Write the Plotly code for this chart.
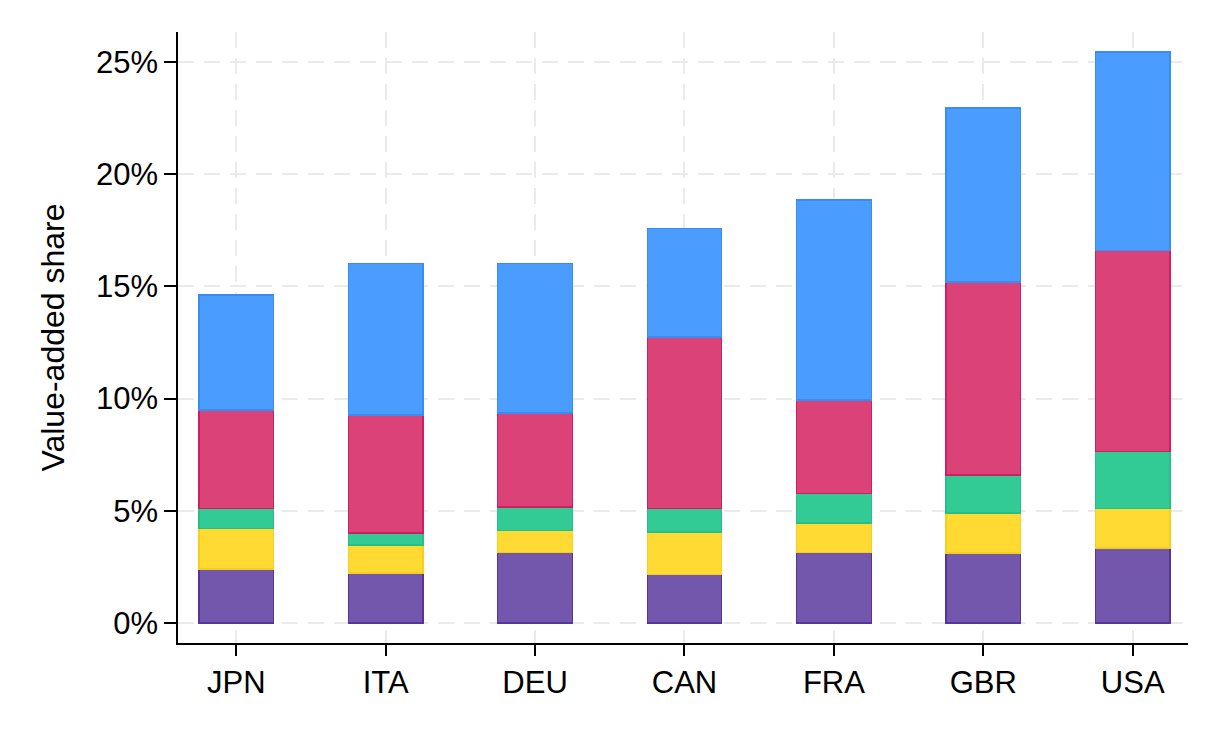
import plotly.graph_objects as go

countries = ["JPN", "ITA", "DEU", "CAN", "FRA", "GBR", "USA"]

# stacked segment values (percent of value added), bottom to top
seg_purple = [2.41, 2.23, 3.16, 2.18, 3.16, 3.12, 3.34]
seg_yellow = [1.82, 1.25, 0.98, 1.88, 1.30, 1.78, 1.78]
seg_green = [0.89, 0.53, 1.03, 1.06, 1.33, 1.70, 2.54]
seg_red = [4.37, 5.26, 4.19, 7.63, 4.15, 8.60, 8.96]
seg_blue = [5.13, 6.77, 6.68, 4.85, 8.91, 7.75, 8.83]

y_ticks = [0, 5, 10, 15, 20, 25]

series = [
    ("Segment 1", seg_purple, "#7357AD", "#55359A"),
    ("Segment 2", seg_yellow, "#FEDA33", "#F6CF1E"),
    ("Segment 3", seg_green, "#33CB95", "#27BF86"),
    ("Segment 4", seg_red, "#DB4278", "#CF1F60"),
    ("Segment 5", seg_blue, "#4A9CFF", "#3A8CF5"),
]

fig = go.Figure()
for name, vals, fill, edge in series:
    fig.add_trace(go.Bar(
        x=countries, y=vals, name=name,
        marker=dict(color=fill, line=dict(color=edge, width=1.2)),
        width=0.5,
    ))

font_family = "Liberation Sans, Arial, sans-serif"
fig.update_layout(
    barmode="stack",
    showlegend=False,
    width=1223, height=729,
    margin=dict(l=170, r=43, t=24, b=94),
    plot_bgcolor="white", paper_bgcolor="white",
    font=dict(family=font_family, size=31, color="black"),
    xaxis=dict(
        range=[-0.39, 6.37],
        showline=True, linecolor="black", linewidth=1.5,
        ticks="outside", ticklen=11, tickwidth=1.5, tickcolor="black",
        showgrid=True, gridcolor="#EAEAEA", griddash="16px,10px", gridwidth=2,
        tickfont=dict(size=31),
    ),
    yaxis=dict(
        range=[-0.89, 26.34],
        tickvals=y_ticks, ticktext=[f"{v}%" for v in y_ticks],
        showline=True, linecolor="black", linewidth=1.5,
        ticks="outside", ticklen=12, tickwidth=1.5, tickcolor="black",
        showgrid=True, gridcolor="#EAEAEA", griddash="16px,10px", gridwidth=2,
        zeroline=False,
        tickfont=dict(size=31),
        title=dict(text="Value-added share", font=dict(size=32), standoff=22),
    ),
)

fig.write_html("out.html")
